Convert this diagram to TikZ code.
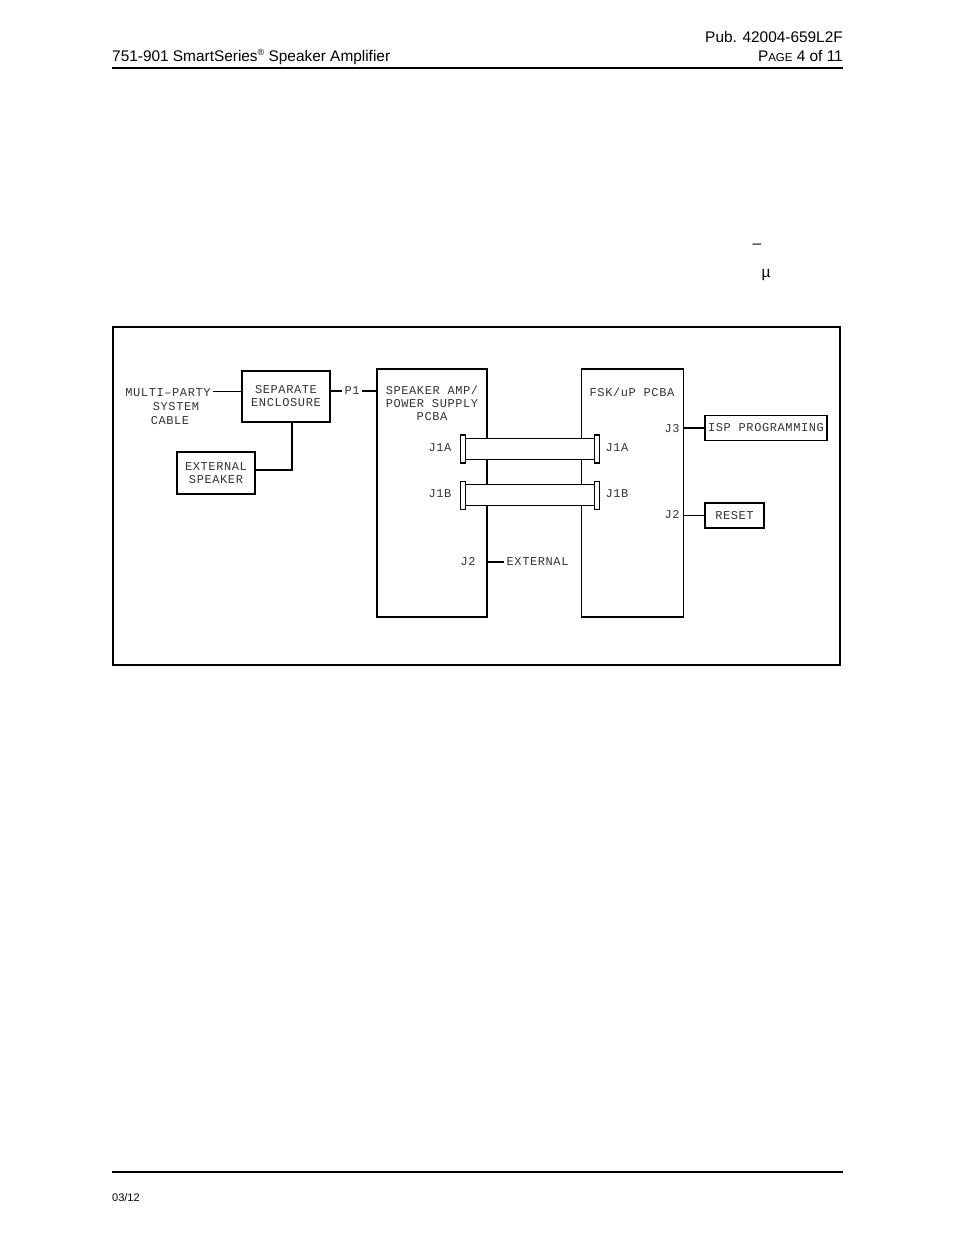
\documentclass[tikz,border=0pt]{standalone}
\usepackage{fontspec}
\setmainfont{Liberation Sans}
\newfontfamily\cadfont[LetterSpace=5]{Liberation Mono}
\usepackage{tikz}
\usetikzlibrary{positioning,calc}

\begin{document}
\begin{tikzpicture}[x=1pt, y=-1pt,
  box/.style={draw, line width=1.2pt, inner sep=0pt},
  lbl/.style={font=\cadfont\fontsize{12}{13}\selectfont, text=black!80, inner sep=2.5pt, align=center},
  wire/.style={line width=1.2pt},
  flange/.style={draw, fill=white, line width=1.2pt, minimum width=4.5pt, minimum height=28pt, inner sep=0pt},
  cable/.style={draw, fill=white, line width=1.2pt, minimum width=130pt, minimum height=21pt, inner sep=0pt},
  hdr/.style={font=\fontsize{15.4}{17}\selectfont, inner sep=0pt},
  rule/.style={line width=2.6pt},
]
\useasboundingbox (0,0) rectangle (954,1235);

% page header
\node[hdr, anchor=base east] (pub) at (843,42) {Pub. 42004-659L2F};
\node[hdr, anchor=base west] (title) at (112,61) {751-901 SmartSeries\raisebox{6pt}{\fontsize{9}{9}\selectfont\textregistered} Speaker Amplifier};
\node[hdr, anchor=base east] (page) at (843,61) {P{\fontsize{11.5}{12}\selectfont AGE} 4 of 11};
\draw[rule] (112,68) -- (843,68);
\node[hdr, anchor=base] (dash) at (757,248) {–};
\node[hdr, anchor=base] (mu) at (766,277) {µ};

% frame
\draw[line width=1.3pt] (113,327) rectangle (840,665);

% left side
\node[lbl, anchor=base] (mp1) at (168,396) {MULTI–PARTY};
\node[lbl, anchor=base] (mp2) at (176,410) {SYSTEM};
\node[lbl, anchor=base] (mp3) at (170,424) {CABLE};
\node[box, minimum width=88pt, minimum height=51pt] (encl) at (286,396.5) {};
\node[lbl] at (encl) {SEPARATE\\ENCLOSURE};
\node[box, minimum width=78pt, minimum height=42pt] (spk) at (216,473) {};
\node[lbl] at (spk) {EXTERNAL\\SPEAKER};
\coordinate (tee) at (292,470);
\node[lbl] (p1) at (352,391) {P1};

\draw[wire] (mp1.east |- 0,391.5) -- (encl.west |- 0,391.5);
\draw[wire] (encl.east |- p1) -- (p1.west);
\draw[wire] (spk.east |- tee) -- (tee) -- (tee |- encl.south);

% boards
\node[box, minimum width=110pt, minimum height=248pt] (amp) at (432,493) {};
\node[lbl, anchor=north] (amptxt) at (432,383) {SPEAKER AMP/\\POWER SUPPLY\\PCBA};
\node[box, minimum width=101.5pt, minimum height=248pt] (fsk) at (632.5,493) {};
\node[lbl] (fsktxt) at (632,392) {FSK/uP PCBA};
\draw[wire] (p1.east) -- (amp.west |- p1);

% ribbon cables
\node[cable] (cab1) at (530,448.8) {};
\node[flange] (f1l) at (463,449) {};
\node[flange] (f1r) at (597,449) {};
\node[cable] (cab2) at (530,494.8) {};
\node[flange] (f2l) at (463,495.5) {};
\node[flange] (f2r) at (597,495.5) {};
\node[lbl] (j1al) at (440,448) {J1A};
\node[lbl] (j1bl) at (440,494) {J1B};
\node[lbl] (j1ar) at (617,448) {J1A};
\node[lbl] (j1br) at (617,494) {J1B};

% outputs
\node[lbl] (j2l) at (468,562) {J2};
\node[lbl, anchor=west] (ext) at (504,562) {EXTERNAL};
\draw[wire] (amp.east |- ext) -- (ext.west);
\node[lbl] (j3) at (672,429) {J3};
\node[box, minimum width=122pt, minimum height=25pt] (isp) at (766,428) {};
\node[lbl] at (isp) {ISP PROGRAMMING};
\node[lbl] (j2r) at (672,515) {J2};
\node[box, minimum width=59pt, minimum height=25pt] (reset) at (734.5,515.5) {};
\node[lbl] at (reset) {RESET};
\draw[wire] (fsk.east |- isp) -- (isp.west);
\draw[wire] (fsk.east |- reset) -- (reset.west);

% page footer
\draw[rule] (112,1172) -- (843,1172);
\node[anchor=base west, inner sep=0pt, font=\fontsize{11}{12}\selectfont] (date) at (112,1201) {03/12};
\end{tikzpicture}
\end{document}
